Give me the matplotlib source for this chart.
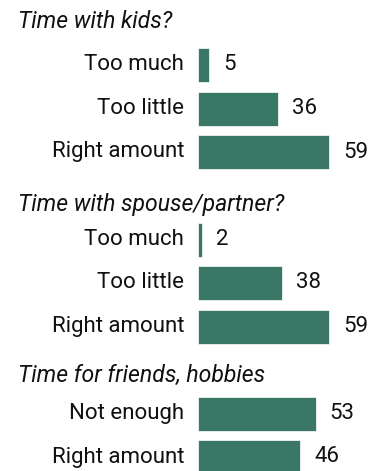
import matplotlib
matplotlib.use("Agg")
import matplotlib.pyplot as plt

# survey answers, grouped by question
titles = ["Time with kids?", "Time with spouse/partner?", "Time for friends, hobbies"]
kids_labels = ["Too much", "Too little", "Right amount"]
kids_values = [5, 36, 59]
spouse_labels = ["Too much", "Too little", "Right amount"]
spouse_values = [2, 38, 59]
friends_labels = ["Not enough", "Right amount"]
friends_values = [53, 46]

groups = [
    (kids_labels, kids_values),
    (spouse_labels, spouse_values),
    (friends_labels, friends_values),
]

W, H = 379, 471
bar_color = "#3b7767"
font = "Roboto"
fs = 16

# layout in pixels, measured from the top
title_y = [22, 205, 375]
first_bar_y = [65, 239.5, 413.5]
pitch = 43.5
bar_h = 34
bar_x0 = 198
px_per_unit = 2.22

fig = plt.figure(figsize=(W / 100, H / 100), dpi=100)
ax = fig.add_axes([bar_x0 / W, 0, (W - bar_x0) / W, 1])
ax.set_xlim(0, (W - bar_x0) / px_per_unit)
ax.set_ylim(H, 0)
ax.axis("off")

for title, (labels, values), ty, y0 in zip(titles, groups, title_y, first_bar_y):
    fig.text(18 / W, 1 - ty / H, title, ha="left", va="center",
             fontsize=16.6, style="italic", family=font, color="#111111")
    ys = [y0 + i * pitch for i in range(len(values))]
    ax.barh(ys, values, height=bar_h, color=bar_color, edgecolor="white", linewidth=0.5)
    for y, lab, v in zip(ys, labels, values):
        ax.annotate(lab, (0, y), xytext=(-10, 0), textcoords="offset points",
                    ha="right", va="center", fontsize=fs, family=font, color="#111111",
                    annotation_clip=False)
        ax.annotate(str(v), (v, y), xytext=(10, 0), textcoords="offset points",
                    ha="left", va="center", fontsize=fs, family=font, color="#111111",
                    annotation_clip=False)

fig.savefig("out.png", dpi=100)
